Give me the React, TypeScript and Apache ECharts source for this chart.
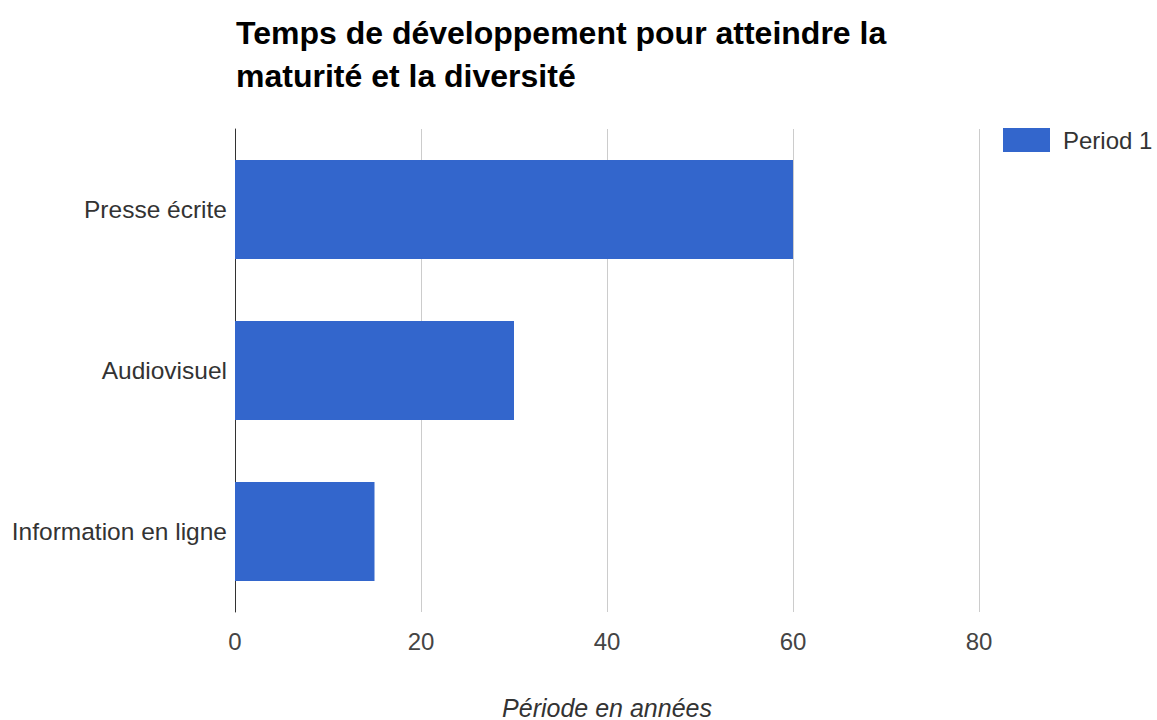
import React, { useEffect, useRef } from "react";
import * as echarts from "echarts";

const categories = ["Presse écrite", "Audiovisuel", "Information en ligne"];
const periodValues = [60, 30, 15];
const xTicks = [0, 20, 40, 60, 80];
const seriesName = "Period 1";
const titleText = "Temps de développement pour atteindre la\nmaturité et la diversité";
const xAxisName = "Période en années";

export default function App() {
  const ref = useRef<HTMLDivElement>(null);
  useEffect(() => {
    document.body.style.margin = "0";
    const chart = echarts.init(ref.current!, null, { renderer: "svg" });
    chart.setOption({
      animation: false,
      title: {
        text: titleText,
        left: 231,
        top: 6,
        textStyle: {
          fontFamily: "Liberation Sans",
          fontWeight: "bold",
          fontSize: 32,
          lineHeight: 43,
          color: "#000",
        },
      },
      legend: {
        left: 998,
        top: 123,
        itemWidth: 47,
        itemHeight: 24,
        itemGap: 10,
        textStyle: { fontFamily: "Liberation Sans", fontSize: 24, color: "#333", padding: [0, 0, 0, 8] },
        data: [seriesName],
        icon: "rect",
      },
      grid: {
        left: 235,
        right: 178,
        top: 129,
        bottom: 108,
        containLabel: false,
        outerBoundsMode: "none",
      },
      xAxis: {
        type: "value",
        min: 0,
        max: 80,
        interval: 20,
        name: xAxisName,
        nameLocation: "middle",
        nameGap: 83,
        nameTextStyle: { fontFamily: "Liberation Sans", fontStyle: "italic", fontSize: 25, color: "#333" },
        axisLine: { show: false },
        axisTick: { show: false },
        axisLabel: {
          fontFamily: "Liberation Sans",
          fontSize: 24,
          color: "#444",
          margin: 17,
          formatter: (v: number) => (xTicks.includes(v) ? String(v) : ""),
        },
        splitLine: { show: true, lineStyle: { color: "#cccccc", width: 1 } },
      },
      yAxis: {
        type: "category",
        data: categories,
        inverse: true,
        axisLine: { show: true, lineStyle: { color: "#333", width: 1 } },
        axisTick: { show: false },
        axisLabel: { fontFamily: "Liberation Sans", fontSize: 24.5, color: "#333", margin: 8 },
      },
      series: [
        {
          name: seriesName,
          type: "bar",
          data: periodValues,
          barWidth: "61.5%",
          itemStyle: { color: "#3366cc" },
        },
      ],
    });
    return () => chart.dispose();
  }, []);
  return <div ref={ref} style={{ width: 1157, height: 720 }} />;
}
